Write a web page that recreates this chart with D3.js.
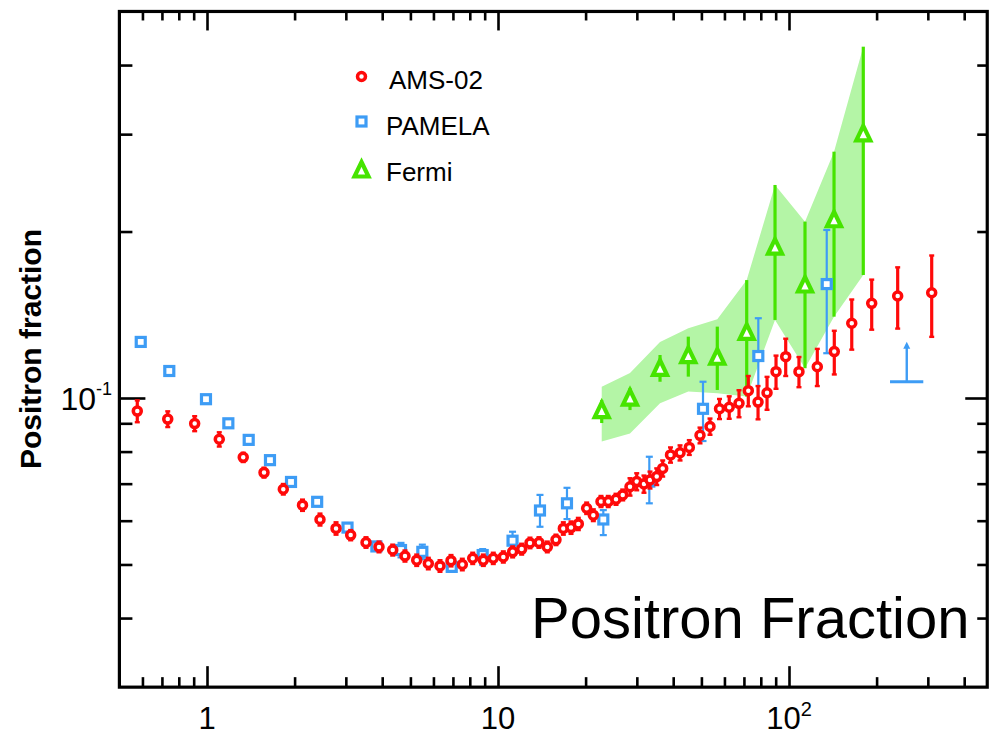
<!DOCTYPE html>
<html><head><meta charset="utf-8">
<script src="https://cdn.jsdelivr.net/npm/d3@7"></script>
<style>
body{margin:0;background:#fff}
text{font-family:"Liberation Sans",Arial,Helvetica,sans-serif;fill:#000}
</style>
</head><body>
<svg id="c" width="994" height="735"></svg>
<script>
// ---------------- DATA ----------------
const amsE = [0.576,0.733,0.907,1.102,1.332,1.570,1.829,2.129,2.445,2.776,3.117,3.519,3.900,4.347,4.790,5.256,5.762,6.320,6.895,7.540,8.187,8.903,9.634,10.43,11.23,12.06,12.88,13.83,14.77,15.82,16.77,17.82,18.88,20.17,21.26,22.59,23.93,25.44,26.83,28.42,29.97,31.74,33.29,35.11,36.81,39.16,42.22,45.44,49.45,53.52,57.71,62.31,67.33,72.47,78.27,84.05,90.24,97.43,108.2,125.1,143.1,164.3,192.4,236.3,309.3];
const amsF = [0.0947,0.0916,0.0899,0.0842,0.0781,0.0733,0.0684,0.0640,0.0603,0.0581,0.0565,0.0548,0.0538,0.0531,0.0518,0.0509,0.0502,0.0497,0.0508,0.0500,0.0513,0.0509,0.0513,0.0516,0.0527,0.0533,0.0547,0.0548,0.0538,0.0554,0.0581,0.0583,0.0592,0.0632,0.0614,0.0650,0.0650,0.0656,0.0668,0.0691,0.0706,0.0699,0.0711,0.0721,0.0746,0.0789,0.0796,0.0814,0.0856,0.0888,0.0956,0.0962,0.0978,0.1031,0.0983,0.1022,0.1116,0.1188,0.1116,0.1139,0.1213,0.1365,0.1483,0.1529,0.1550];
const amsErr = [0.0043,0.0030,0.0028,0.0025,0.0015,0.0015,0.0015,0.0015,0.0015,0.0015,0.0012,0.0012,0.0012,0.0012,0.0012,0.0012,0.0012,0.0012,0.0012,0.0012,0.0012,0.0012,0.0012,0.0012,0.0012,0.0012,0.0012,0.0012,0.0012,0.0012,0.0015,0.0015,0.0015,0.0015,0.0015,0.0015,0.0015,0.0015,0.0015,0.0025,0.0025,0.0025,0.0025,0.0025,0.0025,0.0025,0.0025,0.0025,0.0028,0.0030,0.0040,0.0045,0.0055,0.0065,0.0068,0.0070,0.0077,0.0092,0.0070,0.0088,0.0110,0.0142,0.0154,0.0194,0.0260];

const pamE  = [0.592,0.742,0.992,1.184,1.391,1.646,1.944,2.391,3.040,3.820,4.642,5.495,6.934,8.858,11.22,13.94,17.26,23.01,33.11,50.64,78.44,134.8];
const pamF  = [0.1263,0.1119,0.0995,0.0900,0.0840,0.0772,0.0705,0.0649,0.0583,0.0539,0.0531,0.0527,0.0495,0.0520,0.0552,0.0626,0.0645,0.0603,0.0706,0.0956,0.1191,0.1607];
const pamLo = [0.1263,0.1119,0.0995,0.0900,0.0840,0.0772,0.0705,0.0649,0.0583,0.0539,0.0515,0.0511,0.0485,0.0499,0.0535,0.0585,0.0604,0.0565,0.0645,0.0836,0.0985,0.1205];
const pamHi = [0.1263,0.1119,0.0995,0.0900,0.0840,0.0772,0.0705,0.0649,0.0583,0.0539,0.0547,0.0543,0.0505,0.0533,0.0573,0.0668,0.0688,0.0627,0.0783,0.1070,0.1394,0.2013];
// PAMELA lower limit (bin edges, centre) and level / arrow tip
const pamLimE = [222.4,253.9,289.4];
const pamLimF = [0.1070,0.1264];

const fermiE  = [22.72,28.42,36.04,45.08,56.70,71.56,89.53,113.5,142.8,180.0];
const fermiF  = [0.0945,0.0995,0.1127,0.1188,0.1180,0.1309,0.1866,0.1594,0.2092,0.2990];
const fermiLo = [0.0901,0.0951,0.1070,0.1093,0.1034,0.1006,0.1384,0.1132,0.1403,0.1669];
const fermiHi = [0.0992,0.1043,0.1196,0.1291,0.1346,0.1634,0.2428,0.2084,0.2789,0.4318];
const bandLo  = [0.0834,0.0863,0.0978,0.1027,0.1020,0.1006,0.1384,0.1132,0.1403,0.1669];
const bandHi  = [0.1048,0.1110,0.1263,0.1337,0.1388,0.1634,0.2428,0.2084,0.2789,0.4318];

const xMajor = [1,10,100];
const xMajorLabels = [["1",""],["10",""],["10","2"]];
const xMinor = [0.6,0.7,0.8,0.9,2,3,4,5,6,7,8,9,20,30,40,50,60,70,80,90,200,300,400];
const yMajor = [0.1];
const yMajorLabels = [["10","-1"]];
const yMinor = [0.04,0.05,0.06,0.07,0.08,0.09,0.2,0.3,0.4];
const seriesNames = ["AMS-02","PAMELA","Fermi"];
const yTitle = "Positron fraction";
const bigTitle = "Positron Fraction";

// ---------------- STYLE ----------------
const RED="#ff0a0a", BLUE="#3d9cf5", GREEN="#46e400", BAND="#b4f5a6";
const X0=207, XDEC=291, Y0=398, YDEC=553;

const svg = d3.select("#c");
const x = d3.scaleLog().domain([0.5,480])
  .range([X0+XDEC*Math.log10(0.5), X0+XDEC*Math.log10(480)]);
const y = d3.scaleLog().domain([0.03,0.5])
  .range([Y0+YDEC*(-1-Math.log10(0.03)), Y0+YDEC*(-1-Math.log10(0.5))]);
const [L,R] = x.range(), [B,T] = y.range();

// ---------------- AXES / TICKS ----------------
function ticks(gen, vals, size){
  const g = svg.append("g").call(gen.tickValues(vals).tickSize(size).tickFormat(""));
  g.select(".domain").remove();
  g.selectAll("line").attr("stroke","#000").attr("stroke-width",2.6);
  return g;
}
ticks(d3.axisBottom(x), xMajor, -21).attr("transform",`translate(0,${B})`);
ticks(d3.axisBottom(x), xMinor, -10).attr("transform",`translate(0,${B})`);
ticks(d3.axisTop(x), xMajor, -19).attr("transform",`translate(0,${T})`);
ticks(d3.axisTop(x), xMinor, -9).attr("transform",`translate(0,${T})`);
ticks(d3.axisLeft(y), yMajor, -26).attr("transform",`translate(${L},0)`);
ticks(d3.axisLeft(y), yMinor, -13).attr("transform",`translate(${L},0)`);
ticks(d3.axisRight(y), yMajor, -22).attr("transform",`translate(${R},0)`);
ticks(d3.axisRight(y), yMinor, -10).attr("transform",`translate(${R},0)`);

// ---------------- DATA MARKS ----------------
const plot = svg.append("g");
// Fermi band
const band = fermiE.map((e,i)=>({e,lo:bandLo[i],hi:bandHi[i]}));
plot.append("path").datum(band)
  .attr("d", d3.area().x(d=>x(d.e)).y0(d=>y(d.lo)).y1(d=>y(d.hi)))
  .attr("fill",BAND).attr("stroke","none");

// Fermi error bars
plot.append("g").selectAll("line").data(fermiE).join("line")
  .attr("x1",d=>x(d)).attr("x2",d=>x(d))
  .attr("y1",(d,i)=>y(fermiLo[i])).attr("y2",(d,i)=>y(fermiHi[i]))
  .attr("stroke",GREEN).attr("stroke-width",3.2);

// PAMELA error bars
const pg = plot.append("g").attr("stroke",BLUE).attr("stroke-width",2.2);
pamE.forEach((e,i)=>{
  if (pamHi[i]-pamLo[i] < 1e-6) return;
  const cx=x(e);
  pg.append("line").attr("x1",cx).attr("x2",cx).attr("y1",y(pamLo[i])).attr("y2",y(pamHi[i]));
  pg.append("line").attr("x1",cx-3.5).attr("x2",cx+3.5).attr("y1",y(pamLo[i])).attr("y2",y(pamLo[i]));
  pg.append("line").attr("x1",cx-3.5).attr("x2",cx+3.5).attr("y1",y(pamHi[i])).attr("y2",y(pamHi[i]));
});
// PAMELA lower limit
pg.append("line").attr("x1",x(pamLimE[0])).attr("x2",x(pamLimE[2]))
  .attr("y1",y(pamLimF[0])).attr("y2",y(pamLimF[0])).attr("stroke-width",3);
pg.append("line").attr("x1",x(pamLimE[1])).attr("x2",x(pamLimE[1]))
  .attr("y1",y(pamLimF[0])).attr("y2",y(pamLimF[1])+3).attr("stroke-width",2.4);
pg.append("path").attr("fill",BLUE).attr("stroke","none")
  .attr("d",`M${x(pamLimE[1])},${y(pamLimF[1])} l-3.5,7 l7,0 z`);

// PAMELA squares
plot.append("g").selectAll("rect").data(pamE).join("rect")
  .attr("x",d=>x(d)-4.5).attr("y",(d,i)=>y(pamF[i])-4.5)
  .attr("width",9).attr("height",9)
  .attr("fill","#fff").attr("stroke",BLUE).attr("stroke-width",3.2);

// AMS error bars
const ag = plot.append("g").attr("stroke",RED).attr("stroke-width",3.2);
amsE.forEach((e,i)=>{
  const cx=x(e), y1=y(amsF[i]-amsErr[i]), y2=y(amsF[i]+amsErr[i]);
  ag.append("line").attr("x1",cx).attr("x2",cx).attr("y1",y1).attr("y2",y2);
  ag.append("line").attr("x1",cx-2.5).attr("x2",cx+2.5).attr("y1",y1).attr("y2",y1).attr("stroke-width",2.4);
  ag.append("line").attr("x1",cx-2.5).attr("x2",cx+2.5).attr("y1",y2).attr("y2",y2).attr("stroke-width",2.4);
});
// AMS circles
plot.append("g").selectAll("circle").data(amsE).join("circle")
  .attr("cx",d=>x(d)).attr("cy",(d,i)=>y(amsF[i])).attr("r",4)
  .attr("fill","#fff").attr("stroke",RED).attr("stroke-width",3.5);

// Fermi triangles
const tri = "M0,-9 L7,5.5 L-7,5.5 Z";
plot.append("g").selectAll("path").data(fermiE).join("path")
  .attr("d",tri).attr("transform",(d,i)=>`translate(${x(d)},${y(fermiF[i])})`)
  .attr("fill","#fff").attr("stroke",GREEN).attr("stroke-width",4.2).attr("stroke-linejoin","miter");

// ---------------- FRAME ----------------
svg.append("rect").attr("x",L).attr("y",T).attr("width",R-L).attr("height",B-T)
  .attr("fill","none").attr("stroke","#000").attr("stroke-width",3.2);

// ---------------- LABELS ----------------
xMajor.forEach((v,i)=>{
  const t = svg.append("text").attr("x",x(v)).attr("y",729)
    .attr("text-anchor","middle").attr("font-size",31);
  t.append("tspan").text(xMajorLabels[i][0]);
  if (xMajorLabels[i][1]) t.append("tspan").attr("dy",-13).attr("font-size",20).text(xMajorLabels[i][1]);
});
yMajor.forEach((v,i)=>{
  const t = svg.append("text").attr("x",112).attr("y",y(v)+12)
    .attr("text-anchor","end").attr("font-size",32);
  t.append("tspan").text(yMajorLabels[i][0]);
  t.append("tspan").attr("dy",-15).attr("font-size",18).text(yMajorLabels[i][1]);
});
svg.append("text").attr("transform","translate(41,349) rotate(-90)")
  .attr("text-anchor","middle").attr("font-size",30).attr("font-weight","bold").text(yTitle);
svg.append("text").attr("x",531).attr("y",638).attr("font-size",58).text(bigTitle);

// ---------------- LEGEND ----------------
const leg = svg.append("g");
const legY = [76.5,121.5,170];
const legTY = [89,135,181];
leg.append("circle").attr("cx",361.5).attr("cy",legY[0]).attr("r",4)
  .attr("fill","#fff").attr("stroke",RED).attr("stroke-width",3.5);
leg.append("rect").attr("x",357).attr("y",legY[1]-4.5).attr("width",9).attr("height",9)
  .attr("fill","#fff").attr("stroke",BLUE).attr("stroke-width",3.2);
leg.append("path").attr("d",tri).attr("transform",`translate(361.5,${legY[2]+1})`)
  .attr("fill","#fff").attr("stroke",GREEN).attr("stroke-width",4.2);
seriesNames.forEach((s,i)=>{
  leg.append("text").attr("x",i==0?389:386).attr("y",legTY[i]).attr("font-size",26).text(s);
});
</script>
</body></html>
